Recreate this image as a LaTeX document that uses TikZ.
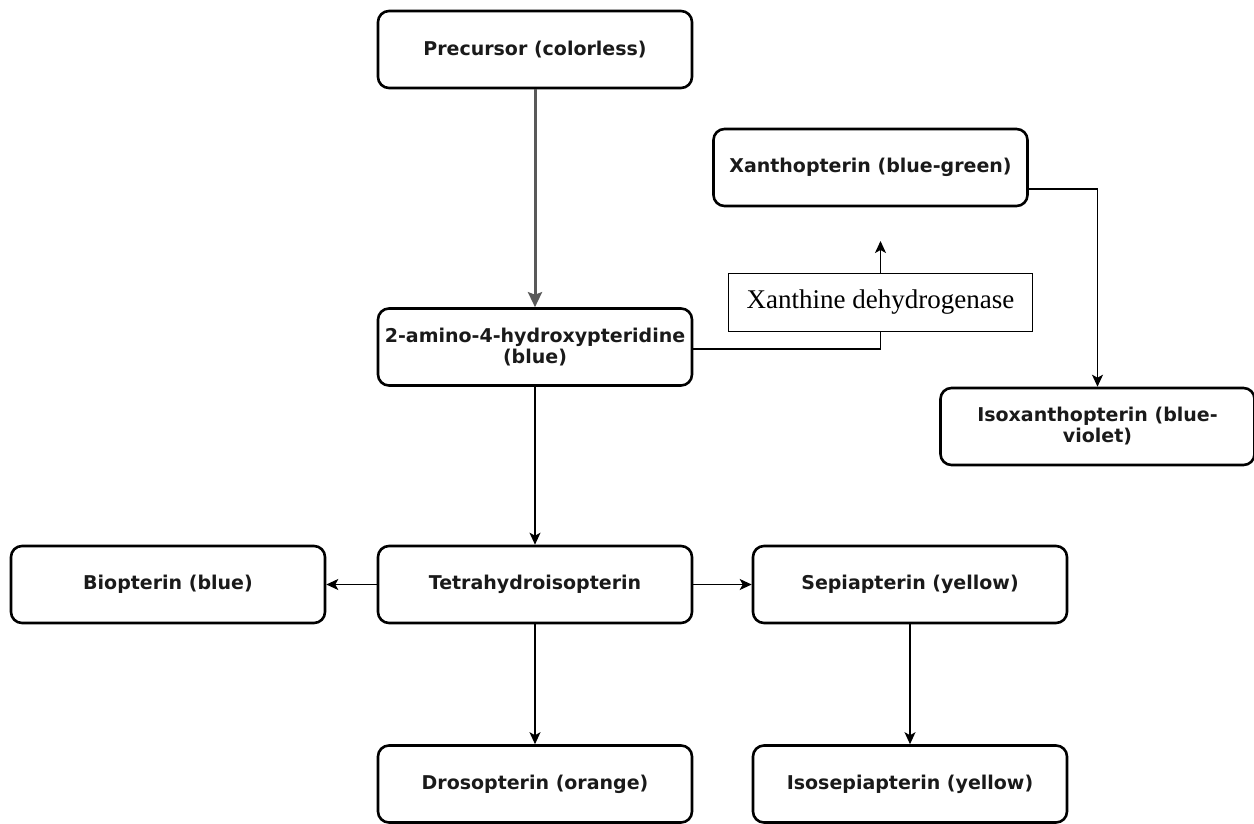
\documentclass[tikz,border=0pt]{standalone}
\usepackage{fontspec}
\setmainfont{DejaVu Sans}
\newfontfamily\timesfont{Liberation Serif}
\usetikzlibrary{arrows.meta}
\definecolor{txt}{HTML}{1A1A1A}
\definecolor{grayarrow}{HTML}{595959}
\begin{document}
\begin{tikzpicture}[x=1pt,y=-1pt,
  box/.style={draw=black,line width=2.6pt,rounded corners=11pt,minimum width=314pt,minimum height=77pt,
    align=center,inner sep=0pt,font=\fontsize{19}{21}\selectfont\bfseries,text=txt},
  enz/.style={draw=black,line width=1.4pt,minimum width=304pt,minimum height=58pt,inner sep=0pt,
    font=\timesfont\fontsize{27}{30}\selectfont},
  conn/.style={line width=1.5pt,-{Stealth[length=12pt,width=11pt,inset=3pt]}},
  thick arrow/.style={line width=3pt,draw=grayarrow,-{Stealth[length=15pt,width=14pt,inset=2.5pt]}}]
\useasboundingbox (0,0) rectangle (1254,824);
\node[box] (pre) at (535,49.5) {Precursor (colorless)};
\node[box] (amino) at (535,347) {2-amino-4-hydroxypteridine\\(blue)};
\node[box] (xan) at (870.5,167.5) {Xanthopterin (blue-green)};
\node[enz] (xdh) at (880.5,302.5) {Xanthine dehydrogenase};
\node[box] (isox) at (1097.5,426.5) {Isoxanthopterin (blue-\\violet)};
\node[box] (bio) at (168,584.5) {Biopterin (blue)};
\node[box] (tetra) at (535,584.5) {Tetrahydroisopterin};
\node[box] (sep) at (910,584.5) {Sepiapterin (yellow)};
\node[box] (dro) at (535,784) {Drosopterin (orange)};
\node[box] (isos) at (910,784) {Isosepiapterin (yellow)};
\coordinate (xtip) at (880.5,241);
\draw[thick arrow] (pre.south) -- (amino.north);
\draw[line width=1.5pt] (amino.east |- 0,349) -- (880.5,349) -- (xdh.south);
\draw[conn] (xdh.north) -- (xtip);
\draw[conn] (xan.east |- 0,189) -| (isox.north);
\draw[conn] (amino.south) -- (tetra.north);
\draw[conn] (tetra.west) -- (bio.east);
\draw[conn] (tetra.east) -- (sep.west);
\draw[conn] (tetra.south) -- (dro.north);
\draw[conn] (sep.south) -- (isos.north);
\end{tikzpicture}
\end{document}
